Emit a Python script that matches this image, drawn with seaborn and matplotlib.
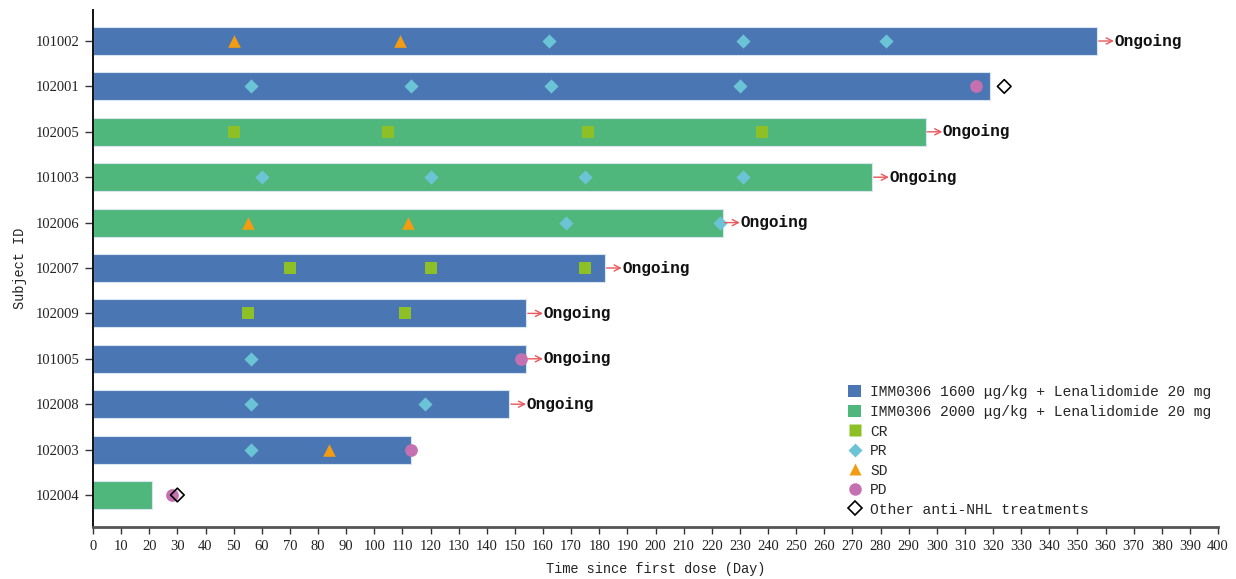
import matplotlib
matplotlib.use("Agg")
import matplotlib.pyplot as plt
from matplotlib.lines import Line2D
from matplotlib.patches import Patch
import seaborn as sns
import pandas as pd

# Subjects, top to bottom, with treatment duration (days)
subjects = ["101002", "102001", "102005", "101003", "102006", "102007",
            "102009", "101005", "102008", "102003", "102004"]
cohorts = ["1600", "1600", "2000", "2000", "2000", "1600",
           "1600", "1600", "1600", "1600", "2000"]
durations = [357, 319, 296, 277, 224, 182, 154, 154, 148, 113, 21]
ongoing = [True, False, True, True, True, True, True, True, True, False, False]

# Tumour response assessments
resp_subject = ["101002"] * 5 + ["102001"] * 5 + ["102005"] * 4 + ["101003"] * 4 \
    + ["102006"] * 4 + ["102007"] * 3 + ["102009"] * 2 + ["101005"] * 2 \
    + ["102008"] * 2 + ["102003"] * 3 + ["102004"]
resp_day = [50, 109, 162, 231, 282,
            56, 113, 163, 230, 314,
            50, 105, 176, 238,
            60, 120, 175, 231,
            55, 112, 168, 223,
            70, 120, 175,
            55, 111,
            56, 152,
            56, 118,
            56, 84, 113,
            28]
resp_type = ["SD", "SD", "PR", "PR", "PR",
             "PR", "PR", "PR", "PR", "PD",
             "CR", "CR", "CR", "CR",
             "PR", "PR", "PR", "PR",
             "SD", "SD", "PR", "PR",
             "CR", "CR", "CR",
             "CR", "CR",
             "PR", "PD",
             "PR", "PR",
             "PR", "SD", "PD",
             "PD"]

# Start of other anti-NHL treatments
other_subject = ["102001", "102004"]
other_day = [324, 30]

cohort_labels = {
    "1600": "IMM0306 1600 μg/kg + Lenalidomide 20 mg",
    "2000": "IMM0306 2000 μg/kg + Lenalidomide 20 mg",
}
cohort_colors = {"1600": "#4a76b4", "2000": "#4fb77c"}
resp_style = {
    "CR": dict(marker="s", color="#8cc026", s=78),
    "PR": dict(marker="D", color="#6bc4d6", s=52),
    "SD": dict(marker="^", color="#f39c12", s=82),
    "PD": dict(marker="o", color="#c570b0", s=84),
}

sns.set_style("ticks")
serif = ["Liberation Serif", "DejaVu Serif"]
mono = ["Liberation Mono", "DejaVu Sans Mono"]

fig = plt.figure(figsize=(12.36, 5.79), dpi=100)
ax = fig.add_axes([93 / 1236, 1 - 527 / 579, 1125 / 1236, 517 / 579])

bars = pd.DataFrame({"subject": subjects, "cohort": cohorts, "days": durations})
sns.barplot(data=bars, x="days", y="subject", hue="cohort", order=subjects,
            palette=cohort_colors, saturation=1, dodge=False, width=0.62,
            orient="h", edgecolor="#d8e4f0", linewidth=0.8, legend=False,
            ax=ax, zorder=2)

ypos = {s: i for i, s in enumerate(subjects)}
resp = pd.DataFrame({"y": [ypos[s] for s in resp_subject], "day": resp_day,
                     "type": resp_type})
for t, st in resp_style.items():
    d = resp[resp["type"] == t]
    sns.scatterplot(x=d["day"], y=d["y"], marker=st["marker"], color=st["color"],
                    s=st["s"], linewidth=0, ax=ax, zorder=4)

sns.scatterplot(x=other_day, y=[ypos[s] for s in other_subject], marker="D",
                color="black", facecolor="none", edgecolor="black", s=48,
                linewidth=1.2, ax=ax, zorder=5)

# "Ongoing" arrows after the bars
for s, d, on in zip(subjects, durations, ongoing):
    if not on:
        continue
    y = ypos[s]
    ax.annotate("", xy=(d + 6.0, y), xytext=(d + 0.6, y),
                arrowprops=dict(arrowstyle="->", color="#e8585c", lw=1.0,
                                shrinkA=0, shrinkB=0, mutation_scale=11),
                zorder=6)
    ax.text(d + 6.2, y, "Ongoing", ha="left", va="center", fontsize=11.5,
            fontweight="bold", family=mono, color="#111111", zorder=6)

ax.set_xlim(0, 400)
ax.set_ylim(10.705, -0.683)
ax.set_xticks(range(0, 401, 10))
ax.set_yticks(range(len(subjects)))
ax.set_yticklabels(subjects)
for lab in ax.get_xticklabels() + ax.get_yticklabels():
    lab.set_fontfamily(serif)
    lab.set_fontsize(10.5)
    lab.set_color("#222222")
ax.tick_params(axis="x", length=5, width=1.0, color="#333333", pad=4)
ax.tick_params(axis="y", length=6, width=1.0, color="#333333", pad=4)

ax.set_xlabel("Time since first dose (Day)", family=mono, fontsize=9.8,
              color="#222222", labelpad=7)
ax.set_ylabel("Subject ID", family=mono, fontsize=9.8, color="#222222",
              labelpad=6)

sns.despine(ax=ax)
ax.spines["left"].set_linewidth(1.4)
ax.spines["left"].set_color("#111111")
ax.spines["bottom"].set_linewidth(2.0)
ax.spines["bottom"].set_color("#555555")

handles = [
    Patch(facecolor=cohort_colors["1600"], edgecolor="none"),
    Patch(facecolor=cohort_colors["2000"], edgecolor="none"),
]
labels = [cohort_labels["1600"], cohort_labels["2000"]]
for t, st in resp_style.items():
    handles.append(Line2D([], [], linestyle="none", marker=st["marker"],
                          markerfacecolor=st["color"], markeredgecolor="none",
                          markersize=9 if st["marker"] != "D" else 7.3))
    labels.append(t)
handles.append(Line2D([], [], linestyle="none", marker="D",
                      markerfacecolor="none", markeredgecolor="black",
                      markeredgewidth=1.2, markersize=7))
labels.append("Other anti-NHL treatments")

fig.legend(handles, labels, loc="upper left",
           bbox_to_anchor=(838 / 1236, 1 - 375 / 579),
           frameon=False, prop={"family": mono, "size": 10.5},
           handlelength=0.9, handleheight=0.9, handletextpad=0.6,
           labelspacing=0.38, borderpad=0.2)

fig.savefig("out.png", dpi=100)
